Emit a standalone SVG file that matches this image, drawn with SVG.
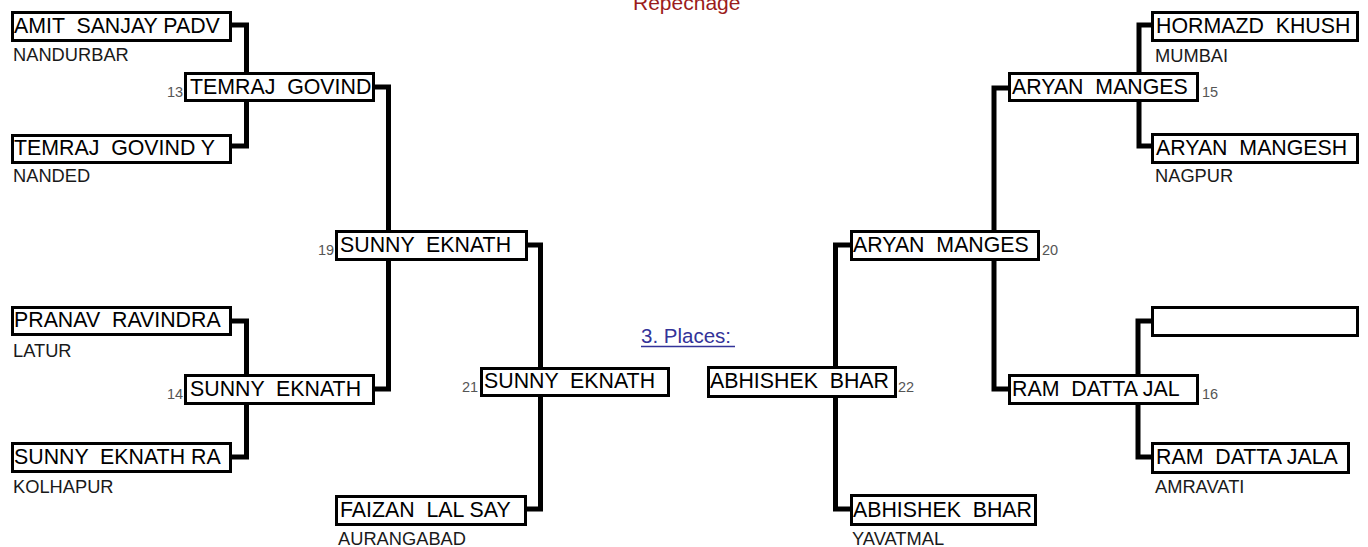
<svg xmlns="http://www.w3.org/2000/svg" width="1368" height="547" viewBox="0 0 1368 547">
<style>
  .box { fill: #ffffff; stroke: #000000; stroke-width: 3; }
  .name { font-family: "Liberation Sans", Arial, sans-serif; font-size: 21.33px; fill: #000000; white-space: pre; }
  .city { font-family: "Liberation Sans", Arial, sans-serif; font-size: 18.3px; fill: #1a1a1a; }
  .num { font-family: "Liberation Sans", Arial, sans-serif; font-size: 14.5px; fill: #555555; }
  .conn { fill: none; stroke: #000000; stroke-width: 5; stroke-linejoin: miter; }
  .title { font-family: "Liberation Sans", Arial, sans-serif; font-size: 21px; fill: #9b1c1c; }
  .link { font-family: "Liberation Sans", Arial, sans-serif; font-size: 20.5px; fill: #333399; }
</style>
<rect width="1368" height="547" fill="#ffffff"/>
<text class="title" x="633" y="10">Repechage</text>
<g id="places-label">
  <text class="link" x="641" y="343">3. Places:</text>
  <line x1="641" y1="346.5" x2="735" y2="346.5" stroke="#333399" stroke-width="1.5"/>
</g>
<g id="connectors">
  <polyline class="conn" points="232,25 246.5,25 246.5,72"/>
  <polyline class="conn" points="232,146 246.5,146 246.5,102"/>
  <polyline class="conn" points="375,87 388.5,87 388.5,230"/>
  <polyline class="conn" points="375,389 388.5,389 388.5,261"/>
  <polyline class="conn" points="232,321 246.5,321 246.5,374"/>
  <polyline class="conn" points="232,457 246.5,457 246.5,405"/>
  <polyline class="conn" points="528,245 540.5,245 540.5,367"/>
  <polyline class="conn" points="527,509 540.5,509 540.5,397"/>
  <polyline class="conn" points="1151,25 1139,25 1139,72"/>
  <polyline class="conn" points="1151,146 1139,146 1139,102"/>
  <polyline class="conn" points="1008,88 994,88 994,230"/>
  <polyline class="conn" points="1008,389 994,389 994,261"/>
  <polyline class="conn" points="1151,321 1138,321 1138,374"/>
  <polyline class="conn" points="1151,457 1138,457 1138,405"/>
  <polyline class="conn" points="850,245 835.5,245 835.5,366"/>
  <polyline class="conn" points="850,509 835.5,509 835.5,398"/>
</g>
<g id="n-amit">
  <rect class="box" x="12.5" y="12.5" width="218" height="28"/>
  <text class="name" x="14" y="33">AMIT  SANJAY PADV</text>
  <text class="city" x="13" y="61">NANDURBAR</text>
</g>
<g id="n-temraj-y">
  <rect class="box" x="12.5" y="135.5" width="218" height="27"/>
  <text class="name" x="14" y="155">TEMRAJ  GOVIND Y</text>
  <text class="city" x="13" y="182">NANDED</text>
</g>
<g id="n-13">
  <rect class="box" x="185.5" y="73.5" width="188" height="27"/>
  <text class="name" x="190" y="94">TEMRAJ  GOVIND</text>
  <text class="num" x="167" y="97">13</text>
</g>
<g id="n-pranav">
  <rect class="box" x="12.5" y="307.5" width="218" height="27"/>
  <text class="name" x="14" y="327">PRANAV  RAVINDRA</text>
  <text class="city" x="13" y="357">LATUR</text>
</g>
<g id="n-sunny-ra">
  <rect class="box" x="12.5" y="443.5" width="218" height="28"/>
  <text class="name" x="14" y="464">SUNNY  EKNATH RA</text>
  <text class="city" x="13" y="493">KOLHAPUR</text>
</g>
<g id="n-14">
  <rect class="box" x="185.5" y="375.5" width="188" height="28"/>
  <text class="name" x="190" y="396">SUNNY  EKNATH</text>
  <text class="num" x="167" y="399">14</text>
</g>
<g id="n-19">
  <rect class="box" x="336.5" y="231.5" width="190" height="28"/>
  <text class="name" x="340" y="252">SUNNY  EKNATH</text>
  <text class="num" x="318" y="255">19</text>
</g>
<g id="n-21">
  <rect class="box" x="481.5" y="368.5" width="187" height="27"/>
  <text class="name" x="484" y="388">SUNNY  EKNATH</text>
  <text class="num" x="462" y="392">21</text>
</g>
<g id="n-faizan">
  <rect class="box" x="336.5" y="496.5" width="189" height="28"/>
  <text class="name" x="340" y="517">FAIZAN  LAL SAY</text>
  <text class="city" x="338" y="545">AURANGABAD</text>
</g>
<g id="n-hormazd">
  <rect class="box" x="1152.5" y="12.5" width="205" height="28"/>
  <text class="name" x="1156" y="33">HORMAZD  KHUSH</text>
  <text class="city" x="1155" y="62">MUMBAI</text>
</g>
<g id="n-aryan-mangesh">
  <rect class="box" x="1152.5" y="134.5" width="205" height="28"/>
  <text class="name" x="1156" y="155">ARYAN  MANGESH</text>
  <text class="city" x="1155" y="182">NAGPUR</text>
</g>
<g id="n-15">
  <rect class="box" x="1009.5" y="73.5" width="188" height="27"/>
  <text class="name" x="1012" y="94">ARYAN  MANGES</text>
  <text class="num" x="1202" y="97">15</text>
</g>
<g id="n-empty">
  <rect class="box" x="1152.5" y="307.5" width="205" height="28"/>
</g>
<g id="n-ram-jala">
  <rect class="box" x="1152.5" y="443.5" width="196" height="29"/>
  <text class="name" x="1156" y="464">RAM  DATTA JALA</text>
  <text class="city" x="1155" y="493">AMRAVATI</text>
</g>
<g id="n-16">
  <rect class="box" x="1009.5" y="375.5" width="188" height="28"/>
  <text class="name" x="1012" y="396">RAM  DATTA JAL</text>
  <text class="num" x="1202" y="399">16</text>
</g>
<g id="n-20">
  <rect class="box" x="851.5" y="231.5" width="187" height="28"/>
  <text class="name" x="853" y="252">ARYAN  MANGES</text>
  <text class="num" x="1042" y="255">20</text>
</g>
<g id="n-22">
  <rect class="box" x="708.5" y="367.5" width="187" height="29"/>
  <text class="name" x="710" y="388">ABHISHEK  BHAR</text>
  <text class="num" x="898" y="392">22</text>
</g>
<g id="n-abhishek">
  <rect class="box" x="851.5" y="495.5" width="184" height="29"/>
  <text class="name" x="853" y="517">ABHISHEK  BHAR</text>
  <text class="city" x="852" y="545">YAVATMAL</text>
</g>
</svg>
